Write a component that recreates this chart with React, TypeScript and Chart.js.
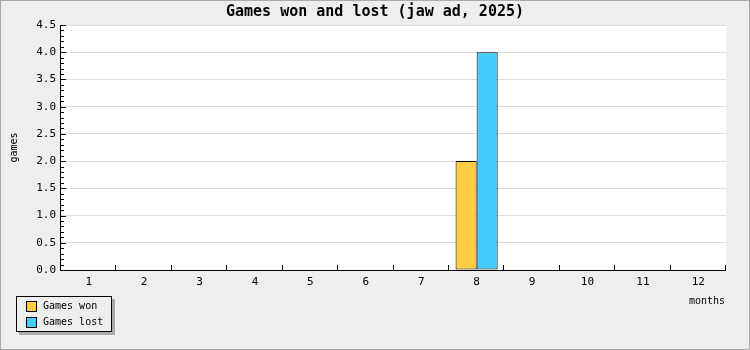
import React, { useEffect, useRef } from "react";
import { Chart, registerables } from "chart.js";

Chart.register(...registerables);

const months = ["1", "2", "3", "4", "5", "6", "7", "8", "9", "10", "11", "12"];
const gamesWon = [0, 0, 0, 0, 0, 0, 0, 2, 0, 0, 0, 0];
const gamesLost = [0, 0, 0, 0, 0, 0, 0, 4, 0, 0, 0, 0];
const seriesNames = ["Games won", "Games lost"];
const seriesColors = ["#ffcc44", "#44ccff"];
const titleText = "Games won and lost (jaw ad, 2025)";
const yTitle = "games";
const xTitle = "months";

const FONT = "'DejaVu Sans Mono', 'Liberation Mono', monospace";

const decorPlugin = {
  id: "decor",
  beforeDraw(chart: any) {
    const { ctx, chartArea: a, width, height } = chart;
    ctx.save();
    ctx.fillStyle = "#eeeeee";
    ctx.fillRect(0, 0, width, height);
    ctx.fillStyle = "#ffffff";
    ctx.fillRect(a.left, a.top, a.right - a.left, a.bottom - a.top);
    ctx.strokeStyle = "#aaaaaa";
    ctx.lineWidth = 1;
    ctx.strokeRect(0.5, 0.5, width - 1, height - 1);
    ctx.restore();
  },
  afterDatasetsDraw(chart: any) {
    const { ctx, chartArea: a } = chart;
    const x = chart.scales.x;
    const y = chart.scales.y;
    ctx.save();
    ctx.strokeStyle = "#000";
    ctx.lineWidth = 1;
    // axis lines
    ctx.beginPath();
    ctx.moveTo(Math.round(a.left) - 0.5, a.top);
    ctx.lineTo(Math.round(a.left) - 0.5, Math.round(a.bottom) + 0.5);
    ctx.lineTo(a.right, Math.round(a.bottom) + 0.5);
    ctx.stroke();
    // y ticks (major + minor)
    const max = y.max;
    ctx.beginPath();
    for (let v = 0; v <= max + 1e-9; v += 0.1) {
      const py = Math.round(y.getPixelForValue(v)) + 0.5;
      const major = Math.abs(v * 2 - Math.round(v * 2)) < 1e-6;
      const len = major ? 5 : 3;
      ctx.moveTo(Math.round(a.left) - 1, py);
      ctx.lineTo(Math.round(a.left) + len, py);
    }
    ctx.stroke();
    // x ticks at category boundaries
    const n = months.length;
    const w = (x.right - x.left) / n;
    ctx.beginPath();
    for (let i = 1; i <= n; i++) {
      const px = Math.round(x.left + i * w) - 0.5;
      ctx.moveTo(px, Math.round(a.bottom));
      ctx.lineTo(px, Math.round(a.bottom) - 5);
    }
    ctx.stroke();

    // title
    ctx.fillStyle = "#000";
    ctx.font = `bold 15px ${FONT}`;
    ctx.textAlign = "center";
    ctx.textBaseline = "middle";
    ctx.fillText(titleText, chart.width / 2, 12);

    // y title
    ctx.font = `10px ${FONT}`;
    ctx.save();
    ctx.translate(14, (a.top + a.bottom) / 2);
    ctx.rotate(-Math.PI / 2);
    ctx.textAlign = "center";
    ctx.textBaseline = "middle";
    ctx.fillText(yTitle, 0, 0);
    ctx.restore();

    // x title
    ctx.font = `10px ${FONT}`;
    ctx.textAlign = "right";
    ctx.textBaseline = "middle";
    ctx.fillText(xTitle, a.right - 1, 301);

    // legend
    const lx = 16, ly = 296, lw = 96, lh = 36;
    ctx.fillStyle = "#aaaaaa";
    ctx.fillRect(lx + 3, ly + 3, lw, lh);
    ctx.fillStyle = "#eeeeee";
    ctx.fillRect(lx, ly, lw, lh);
    ctx.strokeStyle = "#000";
    ctx.strokeRect(lx + 0.5, ly + 0.5, lw - 1, lh - 1);
    ctx.textAlign = "left";
    ctx.textBaseline = "middle";
    seriesNames.forEach((name, i) => {
      const sy = ly + 5 + i * 16;
      ctx.fillStyle = seriesColors[i];
      ctx.fillRect(lx + 10, sy, 10, 10);
      ctx.strokeStyle = "#000";
      ctx.strokeRect(lx + 10.5, sy + 0.5, 10, 10);
      ctx.fillStyle = "#000";
      ctx.fillText(name, lx + 27, sy + 5.5);
    });
    ctx.restore();
  },
};

export default function App() {
  const ref = useRef<HTMLCanvasElement | null>(null);
  useEffect(() => {
    document.body.style.margin = "0";
    if (!ref.current) return;
    const chart = new Chart(ref.current, {
      type: "bar",
      data: {
        labels: months,
        datasets: [
          {
            label: seriesNames[0],
            data: gamesWon,
            backgroundColor: seriesColors[0],
            borderColor: "#000",
            borderWidth: (c: any) => (c.raw === 0 ? 0 : 1),
            borderSkipped: false,
            inflateAmount: 0,
          },
          {
            label: seriesNames[1],
            data: gamesLost,
            backgroundColor: seriesColors[1],
            borderColor: "#000",
            borderWidth: (c: any) => (c.raw === 0 ? 0 : 1),
            borderSkipped: false,
            inflateAmount: 0,
          },
        ],
      },
      options: {
        responsive: false,
        animation: false,
        devicePixelRatio: 1,
        layout: { padding: { left: 0, top: 25, right: 24, bottom: 0 } },
        datasets: { bar: { categoryPercentage: 0.76, barPercentage: 1 } },
        plugins: {
          legend: { display: false },
          title: { display: false },
          tooltip: { enabled: false },
        },
        scales: {
          x: {
            offset: true,
            grid: { display: false, drawTicks: false },
            border: { display: false },
            ticks: { color: "#000", font: { family: FONT, size: 11 }, padding: 6, maxRotation: 0 },
            afterFit: (s: any) => { s.height = 80; },
          },
          y: {
            min: 0,
            max: 4.5,
            grid: { color: "#dddddd", drawTicks: false },
            border: { display: false },
            ticks: {
              stepSize: 0.5,
              color: "#000",
              font: { family: FONT, size: 11 },
              padding: 5,
              callback: (v: any) => Number(v).toFixed(1),
            },
            afterFit: (s: any) => { s.width = 61; },
          },
        },
      },
      plugins: [decorPlugin],
    } as any);
    return () => chart.destroy();
  }, []);
  return (
    <div style={{ position: "absolute", left: 0, top: 0, width: 750, height: 350 }}>
      <canvas ref={ref} width={750} height={350} style={{ width: 750, height: 350, display: "block" }} />
    </div>
  );
}
